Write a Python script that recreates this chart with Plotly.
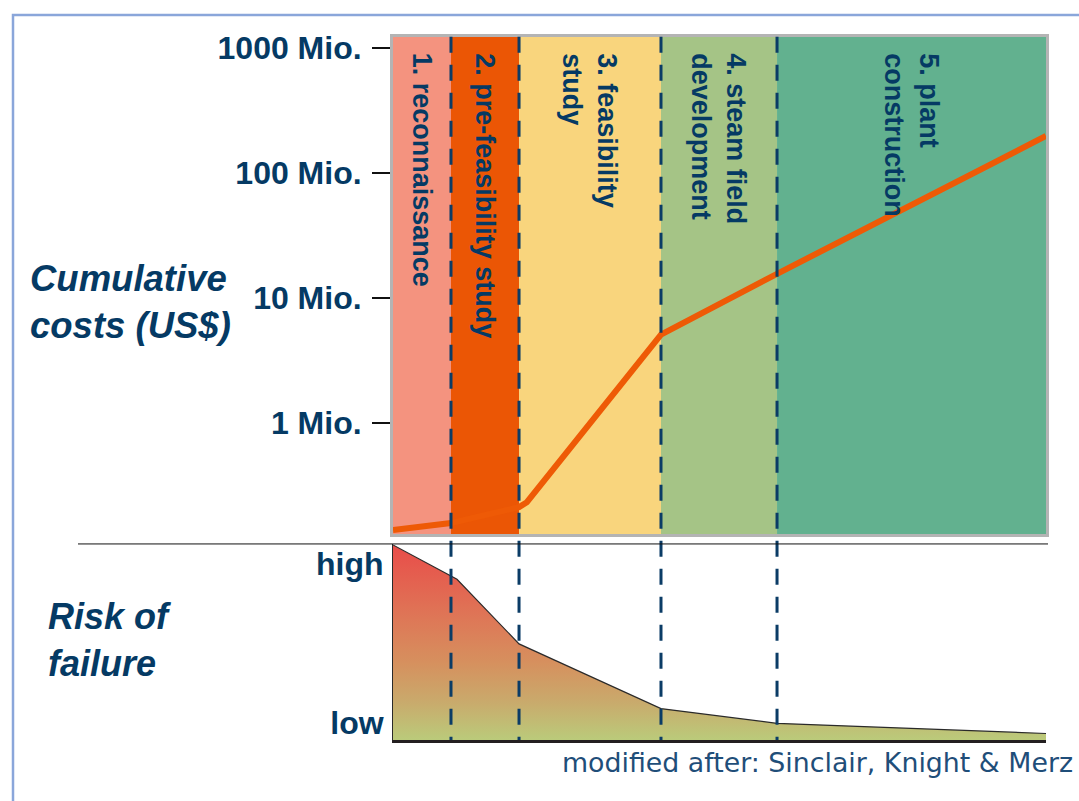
import plotly.graph_objects as go

# ---------------- data ----------------
phase_labels = ["1. reconnaissance", "2. pre-feasibility study", "3. feasibility<br>study",
                "4. steam field<br>development", "5. plant<br>construction"]
phase_edges = [0, 8.88, 19.30, 41.04, 58.81, 100]          # relative project time
phase_colors = ["#F4937F", "#EB5605", "#F9D57D", "#A5C486", "#62B18F"]

cost_time = [0, 8.88, 19.3, 20.5, 41.04, 58.81, 100]
cost_usd = [1.39e5, 1.58e5, 2.12e5, 2.32e5, 5.1e6, 1.56e7, 1.98e8]

risk_time = [0, 9.8, 19.3, 41.04, 58.81, 100]
risk_level = [99.5, 82, 49, 16, 8.5, 3.3]

cost_tickvals = [1e6, 1e7, 1e8, 1e9]
cost_ticktext = ["1 Mio.", "10 Mio.", "100 Mio.", "1000 Mio."]
risk_tickvals = [9, 90]
risk_ticktext = ["low", "high"]

NAVY = "#053A64"
FONT = "Liberation Sans, Arial, sans-serif"

W, H = 1079, 801
def px(x): return x / W
def py(y): return (H - y) / H

fig = go.Figure()

# cumulative cost curve
fig.add_trace(go.Scatter(x=cost_time, y=cost_usd, mode="lines",
                         line=dict(color="#EE5A06", width=6),
                         xaxis="x", yaxis="y", hoverinfo="skip", showlegend=False))

# risk of failure
fig.add_trace(go.Scatter(x=risk_time, y=risk_level, mode="lines", fill="tozeroy",
                         line=dict(color="#2A2A2A", width=1.2),
                         fillgradient=dict(type="vertical", start=0, stop=100,
                                           colorscale=[[0, "#BACC7B"], [0.2, "#C9AA6C"],
                                                       [0.4, "#D6905E"], [0.65, "#DF7456"],
                                                       [1, "#E94C49"]]),
                         xaxis="x2", yaxis="y2", hoverinfo="skip", showlegend=False))

shapes = []
# phase bands
for i, c in enumerate(phase_colors):
    shapes.append(dict(type="rect", xref="x", yref="y domain",
                       x0=phase_edges[i], x1=phase_edges[i + 1], y0=0, y1=1,
                       fillcolor=c, line=dict(width=0), layer="below"))
top_y = py(31)
bot_y = py(739.5)
# dashed phase boundaries
for e in phase_edges[1:-1]:
    shapes.append(dict(type="line", xref="x", yref="paper", x0=e, x1=e, y0=top_y, y1=bot_y,
                       line=dict(color="#0B3C66", width=3, dash="16px,12px"), layer="above"))
# separator line between panels
shapes.append(dict(type="line", xref="paper", yref="paper", x0=px(78), x1=px(1048),
                   y0=py(542), y1=py(542), line=dict(color="#111111", width=1)))
# slide frame
shapes.append(dict(type="rect", xref="paper", yref="paper", x0=px(13), x1=1.05,
                   y0=-0.05, y1=py(9), line=dict(color="#8AA6DA", width=2.5),
                   fillcolor="rgba(0,0,0,0)"))

annotations = []
for i, lab in enumerate(phase_labels):
    annotations.append(dict(x=(phase_edges[i] + phase_edges[i + 1]) / 2, xref="x",
                            y=0.972, yref="y domain", xanchor="center", yanchor="top",
                            text="<b>" + lab + "</b>", textangle=90, align="left",
                            showarrow=False, font=dict(family=FONT, size=27, color=NAVY)))
annotations.append(dict(x=px(28), y=py(298), xref="paper", yref="paper", xanchor="left",
                        yanchor="middle", align="left", showarrow=False,
                        text="<b><i>Cumulative<br>costs (US$)</i></b>",
                        font=dict(family=FONT, size=36.5, color=NAVY)))
annotations.append(dict(x=px(46), y=py(639), xref="paper", yref="paper", xanchor="left",
                        yanchor="middle", align="left", showarrow=False,
                        text="<b><i>Risk of<br>failure</i></b>",
                        font=dict(family=FONT, size=36, color=NAVY)))
annotations.append(dict(x=px(1075), y=py(762), xref="paper", yref="paper", xanchor="right",
                        yanchor="middle", showarrow=False,
                        text="modified after: Sinclair, Knight & Merz",
                        font=dict(family="DejaVu Sans, Verdana, sans-serif", size=26.8,
                                  color="#1F4E79")))

fig.update_layout(
    width=W, height=H, margin=dict(l=0, r=0, t=0, b=0),
    paper_bgcolor="white", plot_bgcolor="white",
    xaxis=dict(domain=[px(393), px(1046)], range=[0, 100], showgrid=False, zeroline=False,
               showticklabels=False, ticks="", showline=True, mirror=True,
               linecolor="#B4B4B4", linewidth=3, anchor="y"),
    yaxis=dict(domain=[py(532), py(31)], type="log", range=[5.1112, 9.0905],
               tickvals=cost_tickvals, ticktext=cost_ticktext, showgrid=False, zeroline=False,
               ticks="outside", ticklen=18, tickwidth=1.5, tickcolor="#111111",
               ticklabelstandoff=4,
               tickfont=dict(family=FONT, size=32, color=NAVY, weight="bold"),
               showline=True, mirror=True, linecolor="#B4B4B4", linewidth=3, anchor="x"),
    xaxis2=dict(domain=[px(393), px(1046)], range=[0, 100], showgrid=False, zeroline=False,
                showticklabels=False, ticks="", showline=True, linecolor="#231F20",
                linewidth=3, anchor="y2"),
    yaxis2=dict(domain=[py(739.5), py(542)], range=[0, 100], tickvals=risk_tickvals,
                ticktext=risk_ticktext, showgrid=False, zeroline=False, ticks="",
                ticklabelstandoff=2,
                tickfont=dict(family=FONT, size=32, color=NAVY, weight="bold"),
                showline=True, linecolor="#2A2A2A", linewidth=1, anchor="x2"),
    shapes=shapes, annotations=annotations,
)

fig.write_html("out.html", config={"displayModeBar": False},
               post_script="document.body.style.margin='0px';"
                           "document.documentElement.style.overflow='hidden';")
